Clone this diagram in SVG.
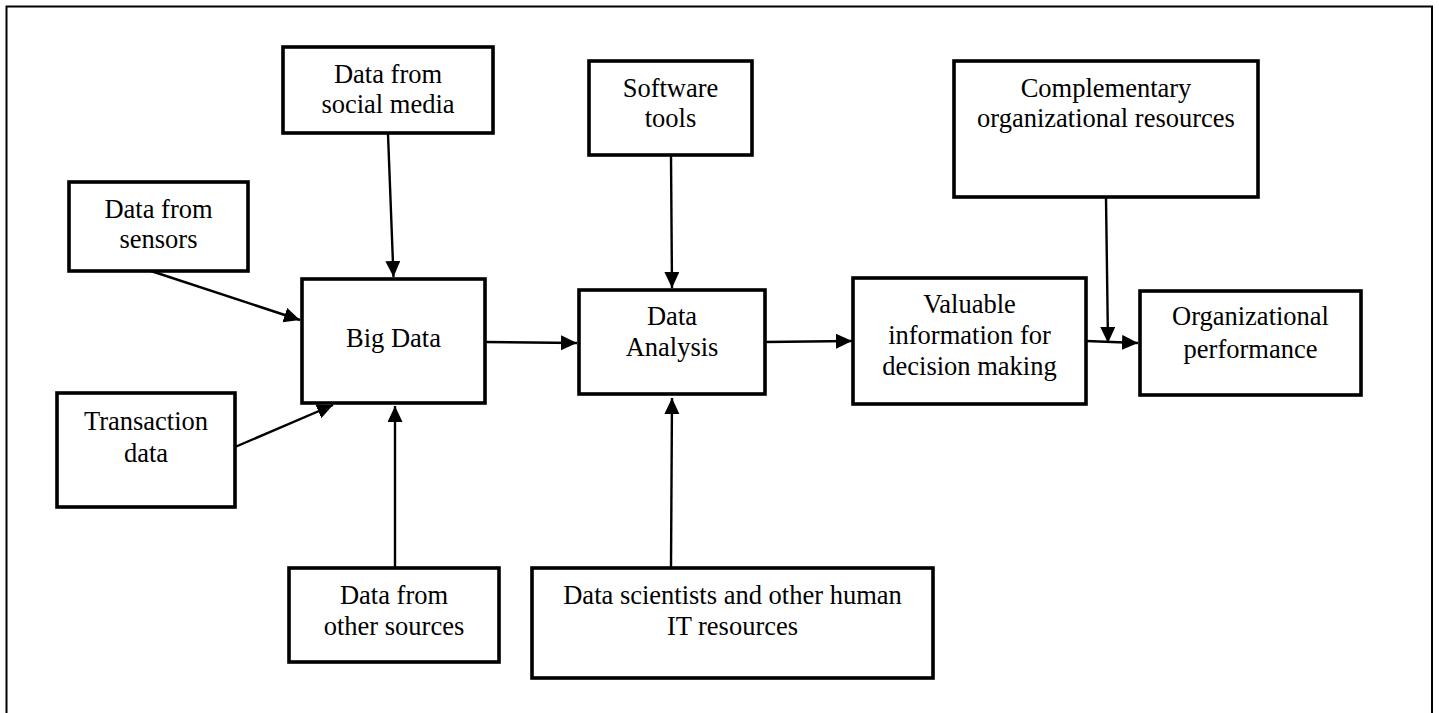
<svg xmlns="http://www.w3.org/2000/svg" width="1439" height="713" viewBox="0 0 1439 713">
<style>
.box{fill:#fff;stroke:#000;stroke-width:3.6}
.t{font-family:"Liberation Serif","Times New Roman",serif;font-size:26.5px;fill:#000;text-anchor:middle}
.c{stroke:#000;stroke-width:2.4;fill:none;marker-end:url(#ah)}
</style>
<defs>
<marker id="ah" markerUnits="userSpaceOnUse" markerWidth="17" markerHeight="16" refX="16" refY="7.5" orient="auto" viewBox="0 0 17 16">
<path d="M0,0 L16,7.5 L0,15 z" fill="#000"/>
</marker>
</defs>
<rect width="1439" height="713" fill="#fff"/>
<path d="M6.5,720 V6.5 H1432 V720" fill="none" stroke="#000" stroke-width="2"/>
<g id="connectors">
<line class="c" x1="388" y1="134" x2="393.5" y2="277"/>
<line class="c" x1="151" y1="271" x2="300" y2="320"/>
<line class="c" x1="235" y1="447" x2="333" y2="405"/>
<line class="c" x1="395" y1="568" x2="395" y2="406"/>
<line class="c" x1="485" y1="342" x2="577" y2="343"/>
<line class="c" x1="671" y1="156" x2="672" y2="288"/>
<line class="c" x1="671" y1="568" x2="672" y2="398"/>
<line class="c" x1="765" y1="342" x2="852" y2="341"/>
<line class="c" x1="1086" y1="341" x2="1138" y2="343"/>
<line class="c" x1="1106" y1="198" x2="1108" y2="343"/>
</g>
<g id="social"><rect class="box" x="283" y="47" width="210" height="86"/><text class="t" x="388" y="83">Data from</text><text class="t" x="388" y="113">social media</text></g>
<g id="sensors"><rect class="box" x="69" y="182" width="179" height="89"/><text class="t" x="158.5" y="218">Data from</text><text class="t" x="158.5" y="248">sensors</text></g>
<g id="bigdata"><rect class="box" x="302" y="279" width="183" height="124"/><text class="t" x="393.5" y="347">Big Data</text></g>
<g id="transaction"><rect class="box" x="57" y="393" width="178" height="114"/><text class="t" x="146" y="430">Transaction</text><text class="t" x="146" y="462">data</text></g>
<g id="other"><rect class="box" x="289" y="568" width="210" height="94"/><text class="t" x="394" y="604">Data from</text><text class="t" x="394" y="635">other sources</text></g>
<g id="software"><rect class="box" x="589" y="61" width="163" height="94"/><text class="t" x="670.5" y="97">Software</text><text class="t" x="670.5" y="127">tools</text></g>
<g id="analysis"><rect class="box" x="579" y="290" width="186" height="104"/><text class="t" x="672" y="325">Data</text><text class="t" x="672" y="356">Analysis</text></g>
<g id="scientists"><rect class="box" x="532" y="568" width="401" height="110"/><text class="t" x="732.5" y="604">Data scientists and other human</text><text class="t" x="732.5" y="635">IT resources</text></g>
<g id="valuable"><rect class="box" x="853" y="278" width="233" height="126"/><text class="t" x="969.5" y="313">Valuable</text><text class="t" x="969.5" y="344">information for</text><text class="t" x="969.5" y="375">decision making</text></g>
<g id="complementary"><rect class="box" x="954" y="61" width="304" height="136"/><text class="t" x="1106" y="97">Complementary</text><text class="t" x="1106" y="127">organizational resources</text></g>
<g id="performance"><rect class="box" x="1140" y="291" width="221" height="104"/><text class="t" x="1250.5" y="325">Organizational</text><text class="t" x="1250.5" y="358">performance</text></g>
</svg>
